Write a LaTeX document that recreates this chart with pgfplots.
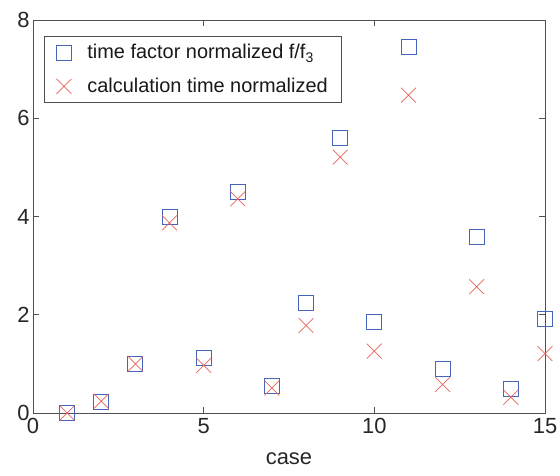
\documentclass[border=0pt]{standalone}
\usepackage{fontspec}
\setmainfont{Liberation Sans}
\usepackage{pgfplots}
\pgfplotsset{compat=1.18}

\definecolor{sqblue}{RGB}{70,100,185}
\definecolor{xred}{RGB}{232,100,90}
\definecolor{axgray}{RGB}{80,80,80}

\begin{document}
\begin{tikzpicture}[x=1bp,y=1bp]
\begin{axis}[
    scale only axis,
    width=512bp, height=393bp,
    xmin=0, xmax=15, ymin=0, ymax=8,
    xtick={0,5,10,15}, ytick={0,2,4,6,8},
    tick align=inside,
    major tick length=6bp,
    axis line style={axgray, line width=0.8bp},
    every tick/.style={axgray, line width=0.8bp},
    tick label style={font=\fontsize{22}{26}\selectfont, text=black!85},
    xticklabel style={yshift=-2bp},
    /pgf/number format/assume math mode=true,
    xlabel={case},
    xlabel style={font=\fontsize{22}{26}\selectfont, text=black!85, yshift=-12bp},
    legend style={
        at={(0.0215,0.959)}, anchor=north west,
        draw=axgray, line width=0.8bp, fill=white,
        font=\fontsize{20}{24}\selectfont,
        row sep=14bp, inner xsep=12bp, inner ysep=6bp,
        text=black!90,
        /tikz/every odd column/.append style={column sep=14bp},
    },
    legend cell align=left,
]
\addplot[only marks, mark=square, mark size=7.5bp, sqblue, line width=0.9bp] coordinates {
    (1,0.0) (2,0.23) (3,1.0) (4,4.0) (5,1.12) (6,4.5) (7,0.56) (8,2.25)
    (9,5.6) (10,1.86) (11,7.45) (12,0.9) (13,3.59) (14,0.48) (15,1.92)
};
\addlegendentry{time factor normalized f/f\textsubscript{3}}
\addplot[only marks, mark=x, mark size=10.5bp, xred, line width=0.7bp] coordinates {
    (1,0.0) (2,0.24) (3,1.0) (4,3.87) (5,0.97) (6,4.36) (7,0.51) (8,1.78)
    (9,5.21) (10,1.26) (11,6.47) (12,0.58) (13,2.57) (14,0.32) (15,1.21)
};
\addlegendentry{calculation time normalized}
\end{axis}
\pgfresetboundingbox
\path ([shift={(-33bp,-63bp)}]current axis.south west) rectangle ([shift={(15bp,20bp)}]current axis.north east);
\end{tikzpicture}
\end{document}
